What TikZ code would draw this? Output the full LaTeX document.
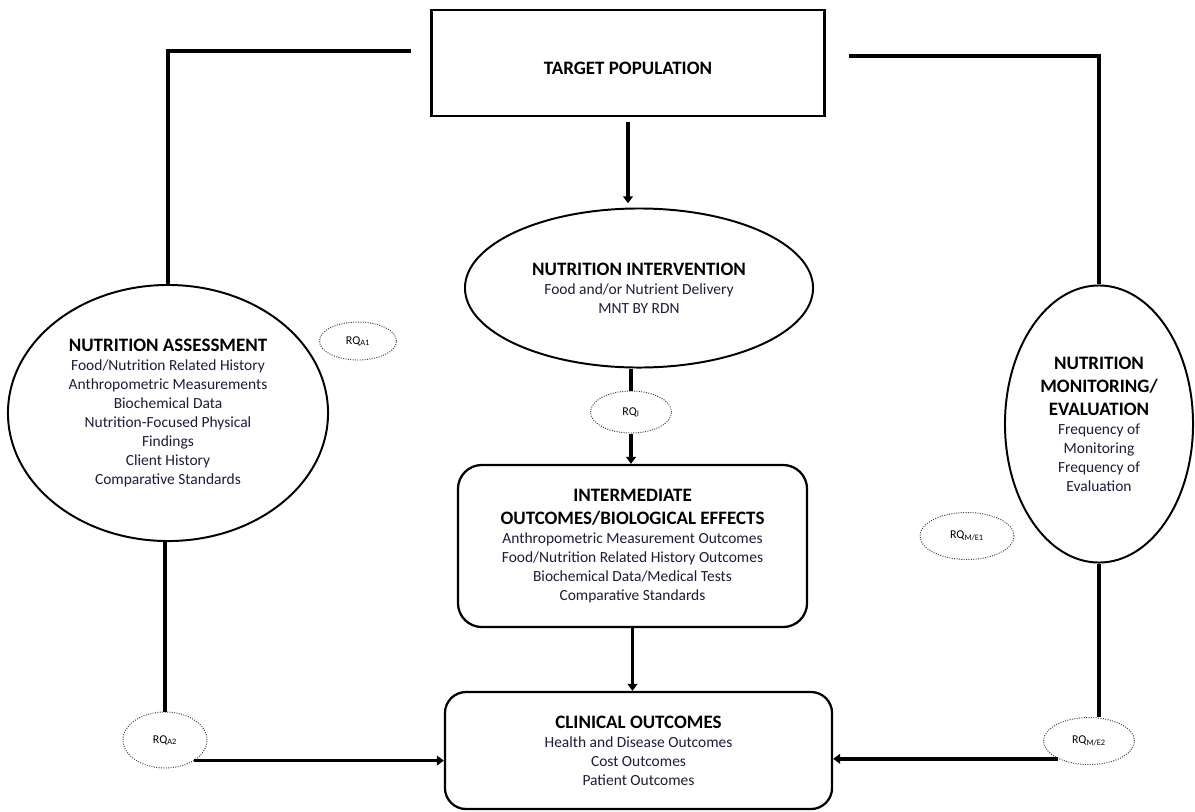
\documentclass[tikz,border=0pt]{standalone}
\usepackage{fontspec}
\setmainfont{Carlito}
\usetikzlibrary{positioning}
\usetikzlibrary{shapes.geometric}
\usetikzlibrary{arrows.meta}

\definecolor{bodytxt}{RGB}{28,28,60}
\newcommand{\hdline}[1]{{\color{black}\fontsize{13.5}{16}\selectfont\bfseries #1}}

\tikzset{
  box/.style={draw, line width=1.6pt, rounded corners=17pt, align=center,
    font=\fontsize{11}{13.5}\selectfont, text=bodytxt},
  bigoval/.style={draw, ellipse, line width=1.4pt, inner sep=0pt, align=center,
    font=\fontsize{11}{13.5}\selectfont, text=bodytxt},
  rq/.style={draw, ellipse, densely dotted, line width=0.7pt, draw=black!75,
    inner sep=0pt, font=\fontsize{8.5}{10}\selectfont},
  link/.style={line width=2.6pt},
  arr/.style={link, -{Triangle[length=5pt,width=7pt]}}
}

\begin{document}
\begin{tikzpicture}[x=0.025cm, y=-0.025cm]
  \useasboundingbox (0,0) rectangle (1195,811);

  % Boxes
  \node[draw, line width=2pt, minimum width=9.825cm, minimum height=2.65cm] (target) at (628,63)
    {\rule{0pt}{16pt}\hdline{TARGET POPULATION}};
  \node[bigoval, minimum width=8.7cm, minimum height=3.975cm] (interv) at (639,288)
    {\hdline{NUTRITION INTERVENTION}\\ Food and/or Nutrient Delivery\\ MNT BY RDN};
  \node[box, minimum width=8.725cm, minimum height=4.05cm] (interm) at (632.5,546)
    {\hdline{INTERMEDIATE}\\[3pt] \hdline{OUTCOMES/BIOLOGICAL EFFECTS}\\
     Anthropometric Measurement Outcomes\\ Food/Nutrition Related History Outcomes\\
     Biochemical Data/Medical Tests\\ Comparative Standards};
  \node[box, rounded corners=15pt, minimum width=9.675cm, minimum height=2.925cm] (clin) at (638.5,750.5)
    {\hdline{CLINICAL OUTCOMES}\\ Health and Disease Outcomes\\ Cost Outcomes\\ Patient Outcomes};
  \node[bigoval, minimum width=8cm, minimum height=6.4cm] (assess) at (168,413)
    {\hdline{NUTRITION ASSESSMENT}\\ Food/Nutrition Related History\\ Anthropometric Measurements\\
     Biochemical Data\\ Nutrition-Focused Physical\\ Findings\\ Client History\\ Comparative Standards};
  \node[bigoval, minimum width=4.7cm, minimum height=6.925cm] (monit) at (1099,424)
    {\hdline{NUTRITION}\\[3pt] \hdline{MONITORING/}\\[3pt] \hdline{EVALUATION}\\
     Frequency of\\ Monitoring\\ Frequency of\\ Evaluation};

  % Research questions
  \node[rq, minimum width=2.025cm, minimum height=1.05cm] (rqi) at (631,412) {RQ\textsubscript{I}};
  \node[rq, minimum width=1.925cm, minimum height=0.95cm] (rqa1) at (358,341) {RQ\textsubscript{A1}};
  \node[rq, minimum width=2.1cm, minimum height=1.4cm] (rqa2) at (165,740) {RQ\textsubscript{A2}};
  \node[rq, minimum width=2.35cm, minimum height=1.175cm] (rqme1) at (967,536) {RQ\textsubscript{M/E1}};
  \node[rq, minimum width=2.275cm, minimum height=1.175cm] (rqme2) at (1089,741) {RQ\textsubscript{M/E2}};

  % Connectors
  \draw[link] ([shift={(-19,-12)}]target.west) -| (assess.north);
  \draw[link] ([shift={(23,-7)}]target.east) -| (monit.north);
  \draw[arr, shorten <=3pt, shorten >=3pt] (target.south) -- (target.south |- interv.north);
  \draw[link] (interv.south -| rqi.north) -- (rqi.north);
  \draw[arr] (rqi.south) -- (rqi.south |- interm.north);
  \draw[arr] (interm.south) -- (interm.south |- clin.north);
  \draw[link] (assess.south -| rqa2.north) -- (rqa2.north);
  \draw[arr] (rqa2.-35) -- (rqa2.-35 -| clin.west);
  \draw[link] (monit.south) -- (monit.south |- rqme2.north);
  \draw[arr] (rqme2.-150) -- (rqme2.-150 -| clin.east);
\end{tikzpicture}
\end{document}
